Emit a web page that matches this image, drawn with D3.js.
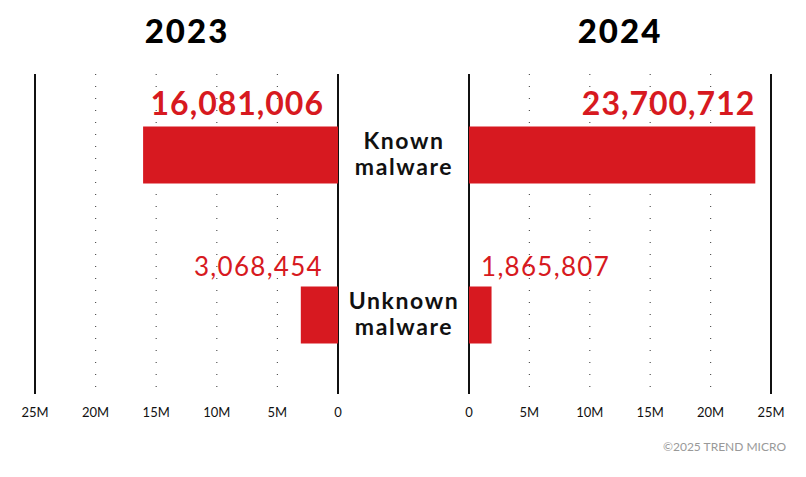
<!DOCTYPE html>
<html><head><meta charset="utf-8">
<script src="https://cdn.jsdelivr.net/npm/d3@7"></script>
<style>body{margin:0;background:#fff}svg{display:block}text{font-family:Lato,"Open Sans",sans-serif}</style>
</head><body><svg id="c" width="806" height="477"></svg>
<script>
const years = ["2023", "2024"];
const categories = ["Known malware", "Unknown malware"];
const values2023 = [16081006, 3068454];
const values2024 = [23700712, 1865807];
const tickValues = [0, 5e6, 10e6, 15e6, 20e6, 25e6];
const tickLabels = ["0", "5M", "10M", "15M", "20M", "25M"];

const svg = d3.select("#c");
const red = "#d71920";
const gTop = 74, gBottom = 394;
const xL = d3.scaleLinear().domain([0, 25e6]).range([338, 35]);
const xR = d3.scaleLinear().domain([0, 25e6]).range([469, 771]);
const yPos = d3.scalePoint().domain(categories).range([155, 315]);

function grid(x) {
  tickValues.forEach((t, i) => {
    const solid = (i === 0 || i === tickValues.length - 1);
    svg.append("line").attr("x1", x(t)).attr("x2", x(t)).attr("y1", gTop).attr("y2", gBottom)
      .attr("stroke", solid ? "#111" : "#555").attr("stroke-width", solid ? 2 : 1.2)
      .attr("stroke-dasharray", solid ? null : "1,11");
    svg.append("text").attr("x", x(t)).attr("y", 417).attr("text-anchor", "middle")
      .attr("font-size", 13).attr("fill", "#111").text(tickLabels[i]);
  });
}
grid(xL); grid(xR);

const bh = 57;
categories.forEach((c, i) => {
  const yc = yPos(c);
  svg.append("rect").attr("x", xL(values2023[i])).attr("y", yc - bh / 2)
    .attr("width", xL(0) - xL(values2023[i])).attr("height", bh).attr("fill", red);
  svg.append("rect").attr("x", xR(0)).attr("y", yc - bh / 2)
    .attr("width", xR(values2024[i]) - xR(0)).attr("height", bh).attr("fill", red);
  const words = c.split(" ");
  svg.append("text").attr("x", 404).attr("y", yc - 6).attr("text-anchor", "middle")
    .attr("font-size", 23).attr("font-weight", 700).attr("letter-spacing", 1.6).attr("fill", "#111").text(words[0]);
  svg.append("text").attr("x", 404).attr("y", yc + 20).attr("text-anchor", "middle")
    .attr("font-size", 23).attr("font-weight", 700).attr("letter-spacing", 1.6).attr("fill", "#111").text(words[1]);
});

const fmt = d3.format(",");
svg.append("text").attr("x", 324).attr("y", 115).attr("text-anchor", "end")
  .attr("font-size", 32).attr("font-weight", 700).attr("letter-spacing", 1).attr("fill", red).text(fmt(values2023[0]));
svg.append("text").attr("x", xR(values2024[0])).attr("y", 115).attr("text-anchor", "end")
  .attr("font-size", 32).attr("font-weight", 700).attr("letter-spacing", 1).attr("fill", red).text(fmt(values2024[0]));
svg.append("text").attr("x", 323).attr("y", 276).attr("text-anchor", "end")
  .attr("font-size", 26).attr("font-weight", 400).attr("letter-spacing", 1.3).attr("fill", red).text(fmt(values2023[1]));
svg.append("text").attr("x", 481).attr("y", 276).attr("text-anchor", "start")
  .attr("font-size", 26).attr("font-weight", 400).attr("letter-spacing", 1.3).attr("fill", red).text(fmt(values2024[1]));

svg.append("text").attr("x", 187).attr("y", 43).attr("text-anchor", "middle")
  .attr("font-size", 33).attr("font-weight", 900).attr("letter-spacing", 2).attr("fill", "#000").text(years[0]);
svg.append("text").attr("x", 620).attr("y", 43).attr("text-anchor", "middle")
  .attr("font-size", 33).attr("font-weight", 900).attr("letter-spacing", 2).attr("fill", "#000").text(years[1]);

svg.append("text").attr("x", 786).attr("y", 451).attr("text-anchor", "end")
  .attr("font-size", 12).attr("fill", "#999").text("©2025 TREND MICRO");
</script></body></html>
